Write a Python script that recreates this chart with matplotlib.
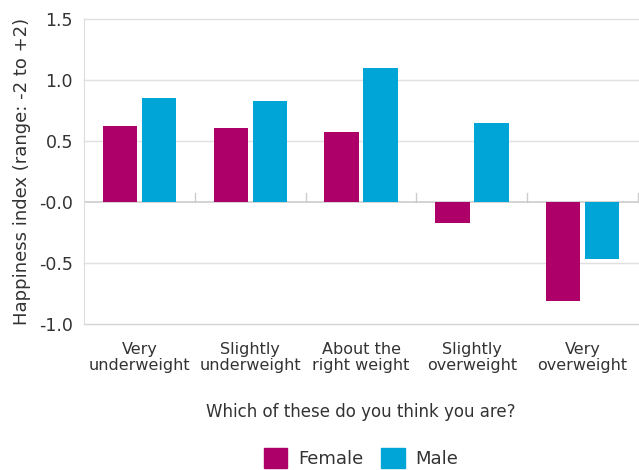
import matplotlib
matplotlib.use("Agg")
import matplotlib.pyplot as plt
import numpy as np
from matplotlib.patches import Patch

categories = ["Very\nunderweight", "Slightly\nunderweight", "About the\nright weight",
              "Slightly\noverweight", "Very\noverweight"]
female = [0.62, 0.61, 0.57, -0.17, -0.81]
male = [0.85, 0.83, 1.10, 0.65, -0.47]
yticks = [-1.0, -0.5, 0.0, 0.5, 1.0, 1.5]
ytick_labels = ["-1.0", "-0.5", "-0.0", "0.5", "1.0", "1.5"]

female_color = "#AD0068"
male_color = "#00A5D8"
text_color = "#333333"

plt.rcParams["font.family"] = ["DejaVu Sans"]

fig = plt.figure(figsize=(6.39, 4.70), dpi=100)
ax = fig.add_axes([0.1315, 0.3106, 0.8670, 0.6490])

x = np.arange(len(categories))
w = 0.31
off = 0.176
ax.bar(x - off, female, width=w, color=female_color, zorder=3)
ax.bar(x + off, male, width=w, color=male_color, zorder=3)

ax.set_xlim(-0.5, len(categories) - 0.5)
ax.set_ylim(-1.0, 1.5)
ax.set_yticks(yticks)
ax.set_yticklabels(ytick_labels, fontsize=12.5, color=text_color)
ax.tick_params(axis="y", length=0, pad=8)

# horizontal gridlines, drawn unclipped so the edge lines stay full width
for t in yticks:
    if t == 0.0:
        continue
    c = "#d4d4d4" if t == -1.0 else "#e0e0e0"
    ax.axhline(t, color=c, linewidth=1, zorder=0, clip_on=False)

# zero baseline with small separators between categories
ax.axhline(0, color="#cccccc", linewidth=1.2, zorder=2)
for b in np.arange(0.5, len(categories) - 0.5 + 1e-9, 1.0):
    ax.plot([b, b], [0, 0.075], color="#cccccc", linewidth=1, zorder=2, clip_on=False)

ax.set_xticks(x)
ax.set_xticklabels(categories, fontsize=11.5, color=text_color, linespacing=1.05)
ax.tick_params(axis="x", length=0, pad=13)

for s in ["top", "right", "bottom"]:
    ax.spines[s].set_visible(False)
ax.spines["left"].set_color("#dddddd")

ax.set_ylabel("Happiness index (range: -2 to +2)", fontsize=13, color=text_color, labelpad=6)
ax.set_xlabel("Which of these do you think you are?", fontsize=12, color=text_color, labelpad=22)

handles = [Patch(color=female_color, label="Female"), Patch(color=male_color, label="Male")]
fig.legend(handles=handles, loc="center", bbox_to_anchor=(0.565, 0.025), ncol=2,
           frameon=False, fontsize=13, handlelength=1.3, handleheight=1.3,
           columnspacing=1.0, handletextpad=0.6, labelcolor=text_color)

fig.savefig("out.png", dpi=100)
